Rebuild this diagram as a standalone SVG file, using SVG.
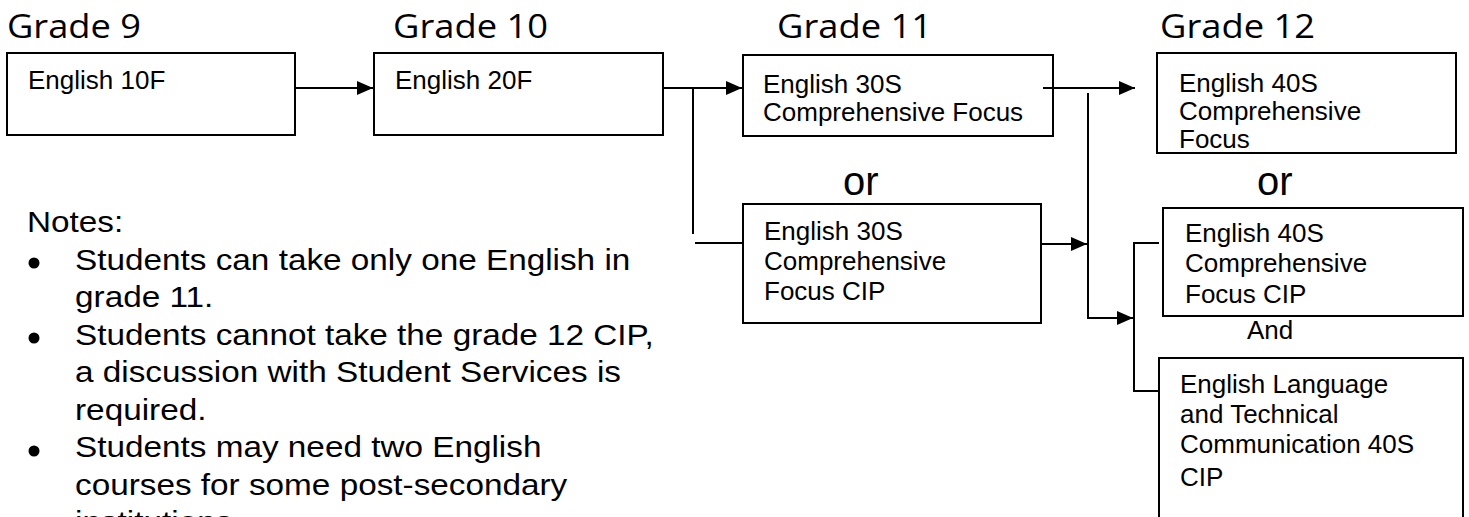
<svg xmlns="http://www.w3.org/2000/svg" width="1469" height="517" viewBox="0 0 1469 517">
<style>
.box{fill:#fff;stroke:#000;stroke-width:2}
.t{font-family:"Liberation Sans",Arial,sans-serif;font-size:26px;fill:#000}
.h{font-family:"Open Sans","Noto Sans",sans-serif;font-size:33px;fill:#000}
.or{font-family:"Liberation Sans",Arial,sans-serif;font-size:40px;fill:#000}
.n{font-family:"Liberation Sans",Arial,sans-serif;font-size:30px;fill:#000}
.c{fill:none;stroke:#000;stroke-width:2}
</style>
<defs>
<marker id="ah" markerUnits="userSpaceOnUse" markerWidth="17" markerHeight="15" refX="16" refY="7" orient="auto">
<path d="M0,0 L16,7 L0,14 Z" fill="#000"/>
</marker>
</defs>
<rect width="1469" height="517" fill="#fff"/>
<g id="headers">
<text class="h" x="7" y="38" textLength="134" lengthAdjust="spacingAndGlyphs">Grade 9</text>
<text class="h" x="393" y="38" textLength="155" lengthAdjust="spacingAndGlyphs">Grade 10</text>
<text class="h" x="777" y="38" textLength="155" lengthAdjust="spacingAndGlyphs">Grade 11</text>
<text class="h" x="1160" y="38" textLength="155" lengthAdjust="spacingAndGlyphs">Grade 12</text>
</g>
<g id="n-10F">
<rect class="box" x="7" y="53" width="288" height="82"/>
<text class="t" x="28" y="89">English 10F</text>
</g>
<g id="n-20F">
<rect class="box" x="374" y="53" width="289" height="82"/>
<text class="t" x="395" y="89">English 20F</text>
</g>
<g id="n-30S">
<rect class="box" x="743" y="55" width="310" height="81"/>
<text class="t" x="763" y="93">English 30S</text>
<text class="t" x="763" y="121">Comprehensive Focus</text>
</g>
<g id="n-40S">
<rect class="box" x="1157" y="53" width="299" height="100"/>
<text class="t" x="1179" y="92">English 40S</text>
<text class="t" x="1179" y="120">Comprehensive</text>
<text class="t" x="1179" y="148">Focus</text>
</g>
<g id="or-11"><text class="or" x="843" y="195">or</text></g>
<g id="or-12"><text class="or" x="1257" y="195">or</text></g>
<g id="n-30S-CIP">
<rect class="box" x="743" y="204" width="298" height="119"/>
<text class="t" x="764" y="240">English 30S</text>
<text class="t" x="764" y="270">Comprehensive</text>
<text class="t" x="764" y="300">Focus CIP</text>
</g>
<g id="n-40S-CIP">
<rect class="box" x="1163" y="208" width="300" height="108"/>
<text class="t" x="1185" y="242">English 40S</text>
<text class="t" x="1185" y="272">Comprehensive</text>
<text class="t" x="1185" y="303">Focus CIP</text>
</g>
<g id="and"><text class="t" x="1247" y="339" font-size="28">And</text></g>
<g id="n-ELTC">
<rect class="box" x="1159" y="358" width="304" height="175"/>
<text class="t" x="1180" y="393">English Language</text>
<text class="t" x="1180" y="423">and Technical</text>
<text class="t" x="1180" y="453">Communication 40S</text>
<text class="t" x="1180" y="486">CIP</text>
</g>
<g id="connectors">
<path class="c" d="M295,88 H373" marker-end="url(#ah)"/>
<path class="c" d="M663,88 H742" marker-end="url(#ah)"/>
<path class="c" d="M693,88 V234"/>
<path class="c" d="M695,243 H743"/>
<path class="c" d="M1043,88 H1135" marker-end="url(#ah)"/>
<path class="c" d="M1088,93 V318 H1133" marker-end="url(#ah)"/>
<path class="c" d="M1041,244 H1087" marker-end="url(#ah)"/>
<path class="c" d="M1159,243 H1134 V391 H1159"/>
</g>
<g id="notes">
<circle cx="34" cy="263" r="5.5"/>
<circle cx="34" cy="338" r="5.5"/>
<circle cx="34" cy="451" r="5.5"/>
<g transform="scale(1.11,1)">
<text class="n" x="24.3" y="232">Notes:</text>
<text class="n" x="67.6" y="270">Students can take only one English in</text>
<text class="n" x="67.6" y="307.5">grade 11.</text>
<text class="n" x="67.6" y="345">Students cannot take the grade 12 CIP,</text>
<text class="n" x="67.6" y="382.5">a discussion with Student Services is</text>
<text class="n" x="67.6" y="420">required.</text>
<text class="n" x="67.6" y="457.5">Students may need two English</text>
<text class="n" x="67.6" y="495">courses for some post-secondary</text>
<text class="n" x="67.6" y="532.5">institutions.</text>
</g>
</g>
</svg>
